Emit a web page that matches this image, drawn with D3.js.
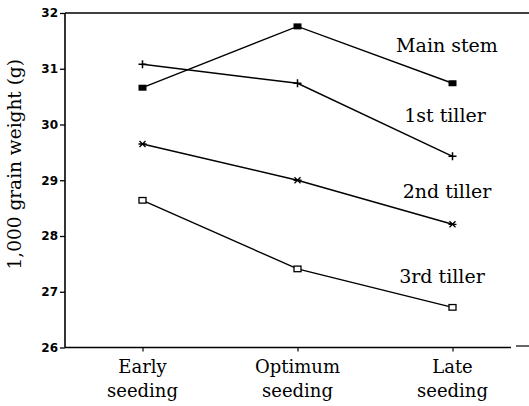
<!DOCTYPE html>
<html>
<head>
<meta charset="utf-8">
<script src="https://cdn.jsdelivr.net/npm/d3@7"></script>
<style>
  html, body { margin: 0; padding: 0; background: #fff; }
  svg { display: block; }
</style>
</head>
<body>
<svg id="chart" width="529" height="406"></svg>
<script>
// ---- data ----
const categories = [["Early", "seeding"], ["Optimum", "seeding"], ["Late", "seeding"]];
const categoryKeys = ["Early", "Optimum", "Late"];
const seriesNames = ["Main stem", "1st tiller", "2nd tiller", "3rd tiller"];
const mainStem  = [30.66, 31.76, 30.74];
const tiller1   = [31.08, 30.74, 29.43];
const tiller2   = [29.65, 29.00, 28.21];
const tiller3   = [28.64, 27.41, 26.72];
const yTicks    = [26, 27, 28, 29, 30, 31, 32];
const yLabel    = "1,000 grain weight (g)";

(function () {
// ---- layout ----
const svg = d3.select("#chart");
const mLeft = 65, mRight = 530, mTop = 13, mBottom = 347.5;
const x = d3.scalePoint().domain(categoryKeys).range([mLeft, mRight]).padding(0.5);
const y = d3.scaleLinear().domain([26, 32]).range([mBottom, mTop]);

const serif = "'DejaVu Serif', serif";

// frame: left axis, top line, bottom line
svg.append("line").attr("x1", mLeft).attr("x2", mLeft).attr("y1", mTop).attr("y2", mBottom)
  .attr("stroke", "#000").attr("stroke-width", 1.6);
svg.append("line").attr("x1", mLeft).attr("x2", 529).attr("y1", mTop).attr("y2", mTop)
  .attr("stroke", "#000").attr("stroke-width", 1.6);
svg.append("line").attr("x1", mLeft).attr("x2", 511).attr("y1", mBottom).attr("y2", mBottom)
  .attr("stroke", "#000").attr("stroke-width", 1.6);
svg.append("line").attr("x1", 516).attr("x2", 529).attr("y1", mBottom - 1.5).attr("y2", mBottom - 1.5)
  .attr("stroke", "#000").attr("stroke-width", 1.2);

// y axis
const yAxis = d3.axisLeft(y).tickValues(yTicks).tickSize(5).tickPadding(2).tickFormat(d3.format("d"));
const ga = svg.append("g").attr("transform", `translate(${mLeft},0)`).call(yAxis);
ga.select(".domain").remove();
ga.selectAll(".tick line").attr("stroke", "#000").attr("stroke-width", 1.3);
ga.selectAll(".tick text")
  .attr("font-family", "'DejaVu Sans', sans-serif")
  .attr("font-weight", "bold").attr("font-size", 12).attr("fill", "#000");

// x axis ticks and labels
const xAxis = d3.axisBottom(x).tickSize(4).tickFormat("");
const gx = svg.append("g").attr("transform", `translate(0,${mBottom})`).call(xAxis);
gx.select(".domain").remove();
gx.selectAll(".tick line").attr("stroke", "#000").attr("stroke-width", 1.2);

categories.forEach((lines, i) => {
  const t = svg.append("text")
    .attr("x", x(categoryKeys[i])).attr("y", 373)
    .attr("text-anchor", "middle")
    .attr("font-family", serif).attr("font-size", 18).attr("fill", "#000");
  lines.forEach((ln, j) => {
    t.append("tspan").attr("x", x(categoryKeys[i])).attr("dy", j === 0 ? 0 : 24).text(ln);
  });
});

// y label
svg.append("text")
  .attr("transform", `translate(21,${(mTop + mBottom) / 2 - 16}) rotate(-90)`)
  .attr("text-anchor", "middle")
  .attr("font-family", serif).attr("font-size", 18.5).attr("fill", "#000")
  .text(yLabel);

// series lines
const allSeries = [mainStem, tiller1, tiller2, tiller3];
const line = d3.line().x((d, i) => x(categoryKeys[i])).y(d => y(d));
allSeries.forEach(s => {
  svg.append("path").datum(s).attr("d", line)
    .attr("fill", "none").attr("stroke", "#000").attr("stroke-width", 1.4);
});

// markers
function drawMarker(kind, cx, cy) {
  const g = svg.append("g").attr("transform", `translate(${cx},${cy})`);
  if (kind === 0) {
    g.append("rect").attr("x", -4).attr("y", -3).attr("width", 8).attr("height", 6).attr("fill", "#000");
  } else if (kind === 1) {
    g.append("path").attr("d", "M-4,0H4M0,-4V4").attr("stroke", "#000").attr("stroke-width", 1.5);
  } else if (kind === 2) {
    g.append("path").attr("d", "M-4,0H4M-3,-3L3,3M-3,3L3,-3").attr("stroke", "#000").attr("stroke-width", 1.3);
  } else {
    g.append("rect").attr("x", -3.5).attr("y", -2.8).attr("width", 7).attr("height", 5.6)
      .attr("fill", "#fff").attr("stroke", "#000").attr("stroke-width", 1.3);
  }
}
allSeries.forEach((s, k) => {
  s.forEach((v, i) => drawMarker(k, x(categoryKeys[i]), y(v)));
});

// series labels (annotation placement)
const labelPos = [[447, 52], [445, 122], [447, 198], [442, 283]];
seriesNames.forEach((name, k) => {
  svg.append("text")
    .attr("x", labelPos[k][0]).attr("y", labelPos[k][1])
    .attr("text-anchor", "middle")
    .attr("font-family", serif).attr("font-size", 19).attr("fill", "#000")
    .text(name);
});
})();
</script>
</body>
</html>
